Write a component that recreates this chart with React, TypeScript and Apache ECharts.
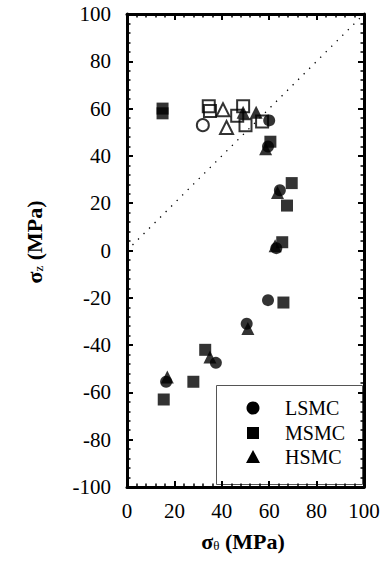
import React, { useEffect, useRef } from "react";
import * as echarts from "echarts";

// sigma_theta (MPa), sigma_z (MPa)
const lsmcFilled = [[60, 55], [59.5, 44], [64.5, 25.5], [63, 1], [59.5, -21], [50.5, -31], [37.5, -47.5], [16.5, -55.5]];
const msmcFilled = [[15, 60], [15, 58], [60.5, 46], [69.5, 28.5], [67.5, 19], [65.5, 3.5], [66, -22], [33, -42], [28, -55.5], [15.5, -63]];
const hsmcFilled = [[58.5, 43], [63.5, 24.5], [62.5, 2], [51, -33], [35, -45], [17, -53.5], [49, 58.5], [54.5, 58.5]];
const lsmcOpen = [[32, 53]];
const msmcOpen = [[34.5, 61], [35, 59], [49, 61], [46.5, 57], [50, 53], [57, 54.5]];
const hsmcOpen = [[40.5, 59.5], [42, 52]];
const equalLine = [[0, 0], [100, 100]];

const xTicks = [0, 20, 40, 60, 80, 100];
const yTicks = [-100, -80, -60, -40, -20, 0, 20, 40, 60, 80, 100];
const legendNames = ["LSMC", "MSMC", "HSMC"];
const xTitle = "{s|σ}{sub|θ}{s| (MPa)}";
const yTitle = "{s|σ}{sub|z}{s| (MPa)}";

const FONT = "Liberation Serif";

export default function App() {
  const ref = useRef<HTMLDivElement>(null);
  useEffect(() => {
    document.body.style.margin = "0";
    const chart = echarts.init(ref.current!, null, { renderer: "svg" });
    const ax = (show: boolean, margin: number) => ({
      axisLine: { show: true, onZero: false, lineStyle: { color: "#000", width: 3 } },
      axisTick: { show: true, inside: true, length: 6, lineStyle: { color: "#000", width: 2 } },
      minorTick: { show: true, splitNumber: 5, length: 3.5, lineStyle: { color: "#000", width: 1.5 } },
      splitLine: { show: false },
      axisLabel: { show, margin, color: "#000", fontFamily: FONT, fontSize: 21 },
    });
    const titleRich = {
      s: { fontFamily: FONT, fontSize: 22, fontWeight: "bold", fill: "#000", color: "#000" },
      sub: { fontFamily: FONT, fontSize: 13, fill: "#000", color: "#000", lineHeight: 10, verticalAlign: "bottom" },
    };
    const xMin = xTicks[0], xMax = xTicks[xTicks.length - 1];
    const yMin = yTicks[0], yMax = yTicks[yTicks.length - 1];
    const xInt = xTicks[1] - xTicks[0];
    const yInt = yTicks[1] - yTicks[0];
    const rowY = [408, 433, 457];
    const legendText = legendNames.map((n, i) => ({
      type: "text", x: 285, y: rowY[i],
      style: { text: n, fill: "#000", font: `20px ${FONT}`, align: "left", verticalAlign: "middle" },
    }));
    const openStyle = { color: "rgba(0,0,0,0)", borderColor: "#000", borderWidth: 2 };
    chart.setOption({
      animation: false,
      grid: { left: 127, top: 14, right: 25, bottom: 92 },
      xAxis: [
        { type: "value", min: xMin, max: xMax, interval: xInt, position: "bottom", ...ax(true, 13) },
        { type: "value", min: xMin, max: xMax, interval: xInt, position: "top", ...ax(false, 8) },
      ],
      yAxis: [
        { type: "value", min: yMin, max: yMax, interval: yInt, position: "left", ...ax(true, 16) },
        { type: "value", min: yMin, max: yMax, interval: yInt, position: "right", ...ax(false, 8) },
      ],
      graphic: [
        {
          type: "text", x: 243, y: 541,
          style: { text: xTitle, rich: titleRich, align: "center", verticalAlign: "middle", fill: "#000" },
        },
        {
          type: "text", x: 34, y: 242, rotation: Math.PI / 2,
          style: { text: yTitle, rich: titleRich, align: "center", verticalAlign: "middle", fill: "#000" },
        },
        {
          type: "group", z: 100,
          children: [
            { type: "rect", shape: { x: 216.5, y: 385.5, width: 146, height: 99 }, style: { fill: "#fff", stroke: "#555", lineWidth: 1 } },
            { type: "circle", shape: { cx: 253, cy: rowY[0], r: 6.5 }, style: { fill: "#000" } },
            { type: "rect", shape: { x: 247, y: rowY[1] - 6, width: 12, height: 12 }, style: { fill: "#000" } },
            { type: "polygon", shape: { points: [[253, rowY[2] - 7], [260, rowY[2] + 6], [246, rowY[2] + 6]] }, style: { fill: "#000" } },
            ...legendText,
          ],
        },
      ],
      series: [
        {
          name: "LSMC", type: "scatter", data: lsmcFilled, symbol: "circle", symbolSize: 12, itemStyle: { color: "#000" },
          markLine: {
            silent: true, symbol: "none", label: { show: false },
            lineStyle: { color: "#000", width: 1.3, type: [1.3, 6.5] },
            data: [[{ coord: equalLine[0] }, { coord: equalLine[1] }]],
          },
        },
        { name: "MSMC", type: "scatter", data: msmcFilled, symbol: "rect", symbolSize: 12, itemStyle: { color: "#000" } },
        { name: "HSMC", type: "scatter", data: hsmcFilled, symbol: "triangle", symbolSize: 13, itemStyle: { color: "#000" } },
        { name: "LSMC open", type: "scatter", data: lsmcOpen, symbol: "circle", symbolSize: 12, itemStyle: openStyle },
        { name: "MSMC open", type: "scatter", data: msmcOpen, symbol: "rect", symbolSize: 12, itemStyle: openStyle },
        { name: "HSMC open", type: "scatter", data: hsmcOpen, symbol: "triangle", symbolSize: 13, itemStyle: openStyle },
      ],
    });
    return () => chart.dispose();
  }, []);
  return <div ref={ref} style={{ width: 389, height: 579 }} />;
}
